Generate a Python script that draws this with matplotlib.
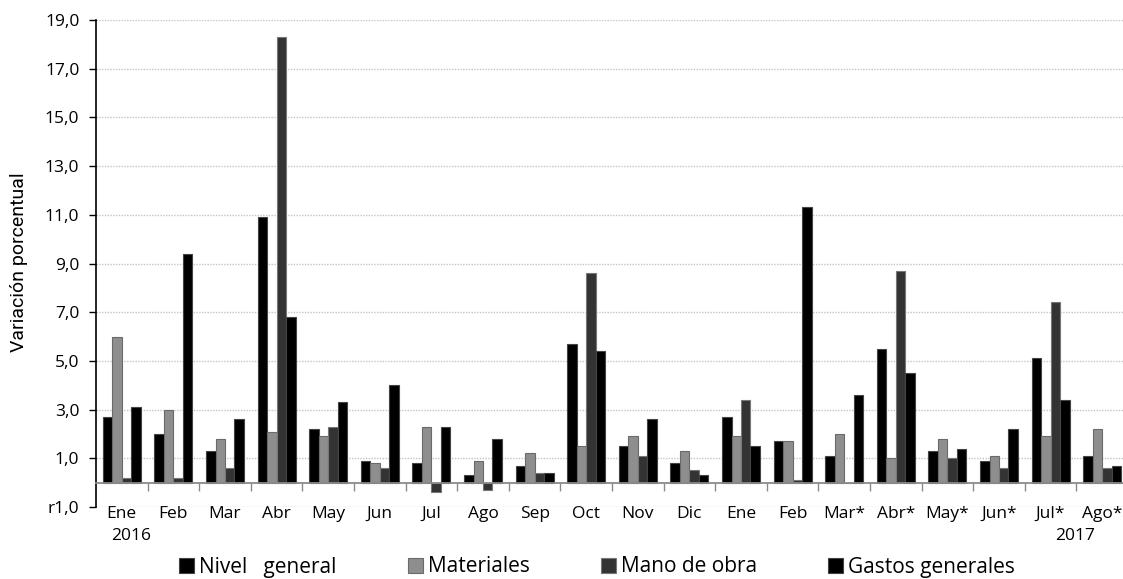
import matplotlib
matplotlib.use("Agg")
import matplotlib.pyplot as plt
import numpy as np
from matplotlib.patches import Patch

plt.rcParams['font.family'] = ['Open Sans', 'DejaVu Sans']

categories = ["Ene", "Feb", "Mar", "Abr", "May", "Jun", "Jul", "Ago", "Sep", "Oct",
              "Nov", "Dic", "Ene", "Feb", "Mar*", "Abr*", "May*", "Jun*", "Jul*", "Ago*"]
years = {0: "2016", 19: "2017"}

nivel_general = [2.7, 2.0, 1.3, 10.9, 2.2, 0.9, 0.8, 0.3, 0.7, 5.7,
                 1.5, 0.8, 2.7, 1.7, 1.1, 5.5, 1.3, 0.9, 5.1, 1.1]
materiales = [6.0, 3.0, 1.8, 2.1, 1.9, 0.8, 2.3, 0.9, 1.2, 1.5,
              1.9, 1.3, 1.9, 1.7, 2.0, 1.0, 1.8, 1.1, 1.9, 2.2]
mano_de_obra = [0.2, 0.2, 0.6, 18.3, 2.3, 0.6, -0.4, -0.3, 0.4, 8.6,
                1.1, 0.5, 3.4, 0.1, 0.0, 8.7, 1.0, 0.6, 7.4, 0.6]
gastos_generales = [3.1, 9.4, 2.6, 6.8, 3.3, 4.0, 2.3, 1.8, 0.4, 5.4,
                    2.6, 0.3, 1.5, 11.3, 3.6, 4.5, 1.4, 2.2, 3.4, 0.7]

series_names = ["Nivel   general", "Materiales", "Mano de obra", "Gastos generales"]
series = [nivel_general, materiales, mano_de_obra, gastos_generales]
fills = ["#000000", "#8e8e8e", "#333333", "#000000"]
edges = ["#444444", "#6a6a6a", "#777777", "#444444"]

yticks = [-1, 1, 3, 5, 7, 9, 11, 13, 15, 17, 19]
ytick_labels = ["r1,0", "1,0", "3,0", "5,0", "7,0", "9,0", "11,0", "13,0", "15,0", "17,0", "19,0"]

W, H = 1123, 579
fig = plt.figure(figsize=(W / 100, H / 100), dpi=100)
ax = fig.add_axes([96 / W, 1 - 507 / H, (1128 - 96) / W, (507 - 20) / H])

x = np.arange(len(categories))
bw = 0.184
for i, (vals, fc, ec) in enumerate(zip(series, fills, edges)):
    ax.bar(x + (i - 1.5) * bw, vals, width=bw, color=fc, edgecolor=ec,
           linewidth=0.8, zorder=3, label=series_names[i])

ax.set_xlim(-0.5, len(categories) - 0.5)
ax.set_ylim(-1, 19)
ax.set_yticks(yticks)
ax.set_yticklabels(ytick_labels, fontsize=12.5)
ax.yaxis.grid(True, linestyle=(0, (1, 1)), color="#c4c4c4", linewidth=1, zorder=0)
ax.tick_params(axis='y', length=5, width=1, pad=7, color="#000000")

ax.spines['top'].set_visible(False)
ax.spines['right'].set_visible(False)
ax.spines['left'].set_color("#000000")
ax.spines['left'].set_linewidth(1.2)
ax.spines['bottom'].set_position(('data', 0))
ax.spines['bottom'].set_color("#8a8a8a")
ax.spines['bottom'].set_linewidth(1.3)
ax.spines['bottom'].set_zorder(4)

ax.set_xticks(np.arange(0.5, len(categories) - 0.5, 1.0))
ax.set_xticklabels([])
ax.tick_params(axis='x', which='major', length=5.5, width=1, color="#8a8a8a", direction='out')
ax.set_xticks(x, minor=True)
ax.set_xticklabels(categories, minor=True, fontsize=12.5)
ax.tick_params(axis='x', which='minor', length=0, pad=17)

for idx, yr in years.items():
    off = 0.18 if idx == 0 else -0.52
    ax.annotate(yr, xy=(idx + off, -1), xycoords='data', xytext=(0, -15),
                textcoords='offset points', ha='center', va='top', fontsize=12.5)

fig.text(19 / W, 1 - 262 / H, "Variación porcentual", rotation=90, ha='center', va='center',
         fontsize=14, family=['Roboto', 'DejaVu Sans'])

handles = [Patch(facecolor=fc, edgecolor=ec, linewidth=0.8) for fc, ec in zip(fills, edges)]
fig.legend(handles, series_names, loc='center', bbox_to_anchor=(597 / W, 1 - 567 / H), ncol=4,
           frameon=False, fontsize=15, handlelength=0.72, handleheight=0.72,
           handletextpad=0.25, columnspacing=3.4, borderaxespad=0, borderpad=0)

fig.savefig("out.png", dpi=100)
